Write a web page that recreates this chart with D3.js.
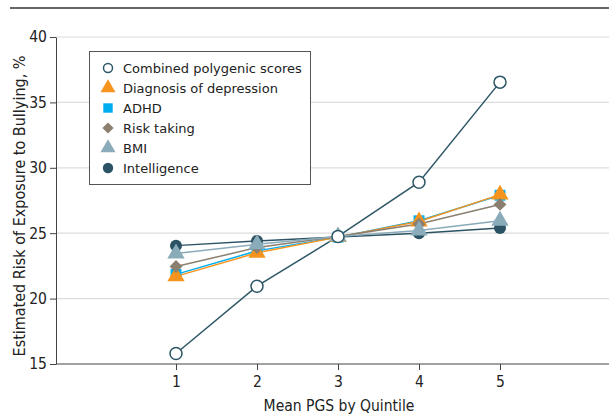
<!DOCTYPE html>
<html>
<head>
<meta charset="utf-8">
<script src="https://cdn.jsdelivr.net/npm/d3@7"></script>
<style>
  body { margin: 0; background: #fff; }
  text { font-family: "DejaVu Sans", sans-serif; }
  .cond { font-family: "DejaVu Sans Condensed", "Liberation Sans Narrow", sans-serif; }
</style>
</head>
<body>
<svg width="609" height="414"></svg>
<script>
// values
var quintiles = [1, 2, 3, 4, 5];
var yTicks = [15, 20, 25, 30, 35, 40];
var combined     = [15.8, 20.95, 24.75, 28.9, 36.55];
var depression   = [21.7, 23.5, 24.7, 25.9, 27.95];
var adhd         = [21.85, 23.65, 24.7, 25.95, 27.9];
var riskTaking   = [22.45, 23.9, 24.75, 25.7, 27.2];
var bmi          = [23.45, 24.15, 24.75, 25.2, 25.95];
var intelligence = [24.05, 24.4, 24.7, 25.0, 25.4];

var series = [
  {name: "Combined polygenic scores", values: combined, color: "#2e5766", shape: "open"},
  {name: "Diagnosis of depression", values: depression, color: "#f7941d", shape: "triangle"},
  {name: "ADHD", values: adhd, color: "#00aeef", shape: "square"},
  {name: "Risk taking", values: riskTaking, color: "#8b7f70", shape: "diamond"},
  {name: "BMI", values: bmi, color: "#8aabb9", shape: "triangle"},
  {name: "Intelligence", values: intelligence, color: "#2b5363", shape: "circle"}
];
// drawing order (front-most last)
var drawOrder = ["Intelligence", "ADHD", "Diagnosis of depression", "Risk taking", "BMI", "Combined polygenic scores"];

var svg = d3.select("svg"),
    plotLeft = 56, plotRight = 609, plotTop = 37, plotBottom = 364;

var x = d3.scaleLinear().domain([1, 5]).range([176, 500]);
var y = d3.scaleLinear().domain([15, 40]).range([plotBottom, plotTop]);

// top rule
svg.append("line")
    .attr("x1", 10).attr("x2", 609).attr("y1", 8).attr("y2", 8)
    .attr("stroke", "#333").attr("stroke-width", 1.5);

// grid
svg.append("g").selectAll("line")
    .data(yTicks.filter(function(d) { return d > 15; }))
  .enter().append("line")
    .attr("x1", plotLeft).attr("x2", plotRight)
    .attr("y1", function(d) { return y(d); })
    .attr("y2", function(d) { return y(d); })
    .attr("stroke", "#dcdcdc").attr("stroke-width", 1.2);

// axes
var yAxis = svg.append("g")
    .attr("transform", "translate(" + plotLeft + ",0)")
    .call(d3.axisLeft(y).tickValues(yTicks).tickSize(6).tickSizeOuter(0).tickPadding(3));
yAxis.select(".domain").attr("stroke", "#444");
yAxis.selectAll(".tick line").attr("stroke", "#444");
yAxis.selectAll("text").attr("class", "cond").attr("font-size", 15.5).attr("fill", "#222");

var xAxis = svg.append("g")
    .attr("transform", "translate(0," + plotBottom + ")")
    .call(d3.axisBottom(x).tickValues(quintiles).tickFormat(d3.format("d")).tickSize(6).tickSizeOuter(0).tickPadding(6));
xAxis.select(".domain").attr("d", "M" + plotLeft + ",0H" + plotRight).attr("stroke", "#444");
xAxis.selectAll(".tick line").attr("stroke", "#444");
xAxis.selectAll("text").attr("class", "cond").attr("font-size", 15.5).attr("fill", "#222");

svg.append("text")
    .attr("class", "cond")
    .attr("transform", "translate(25,206) rotate(-90)")
    .attr("text-anchor", "middle")
    .attr("font-size", 16).attr("fill", "#222")
    .text("Estimated Risk of Exposure to Bullying, %");

svg.append("text")
    .attr("class", "cond")
    .attr("x", 339).attr("y", 411)
    .attr("text-anchor", "middle")
    .attr("font-size", 15.5).attr("fill", "#222")
    .text("Mean PGS by Quintile");

function marker(sel, s, size) {
  if (s.shape === "open" || s.shape === "circle") {
    sel.append("circle").attr("r", size)
      .attr("fill", s.shape === "open" ? "#fff" : s.color)
      .attr("stroke", s.color).attr("stroke-width", s.shape === "open" ? 1.5 : 0);
  } else if (s.shape === "diamond") {
    sel.append("path").attr("d", d3.symbol().type(d3.symbolSquare).size(size * size * 2.3)())
      .attr("transform", "rotate(45)").attr("fill", s.color);
  } else {
    var sym = s.shape === "triangle" ? d3.symbolTriangle : d3.symbolSquare;
    var area = s.shape === "triangle" ? size * size * 3.6 : size * size * 3.3;
    sel.append("path").attr("d", d3.symbol().type(sym).size(area)()).attr("fill", s.color);
  }
}

var line = d3.line()
    .x(function(d, i) { return x(quintiles[i]); })
    .y(function(d) { return y(d); });

var ordered = drawOrder.map(function(n) { return series.find(function(s) { return s.name === n; }); });

ordered.forEach(function(s) {
  svg.append("path")
      .datum(s.values)
      .attr("fill", "none")
      .attr("stroke", s.color)
      .attr("stroke-width", 1.5)
      .attr("d", line);
});

ordered.forEach(function(s) {
  s.values.forEach(function(v, i) {
    var g = svg.append("g").attr("transform", "translate(" + x(quintiles[i]) + "," + y(v) + ")");
    marker(g, s, 6);
  });
});

// legend
var legend = svg.append("g").attr("transform", "translate(89,51)");
legend.append("rect")
    .attr("x", 0.5).attr("y", 0.5).attr("width", 221).attr("height", 133)
    .attr("fill", "#fff").attr("stroke", "#555").attr("stroke-width", 1);

series.forEach(function(s, i) {
  var row = legend.append("g").attr("transform", "translate(0," + (17 + i * 20) + ")");
  var m = row.append("g").attr("transform", "translate(19,0)");
  marker(m, s, s.shape === "open" ? 4.5 : 5.2);
  row.append("text")
      .attr("x", 34).attr("y", 0).attr("dy", "0.35em")
      .attr("font-size", 13).attr("fill", "#222")
      .text(s.name);
});
</script>
</body>
</html>
